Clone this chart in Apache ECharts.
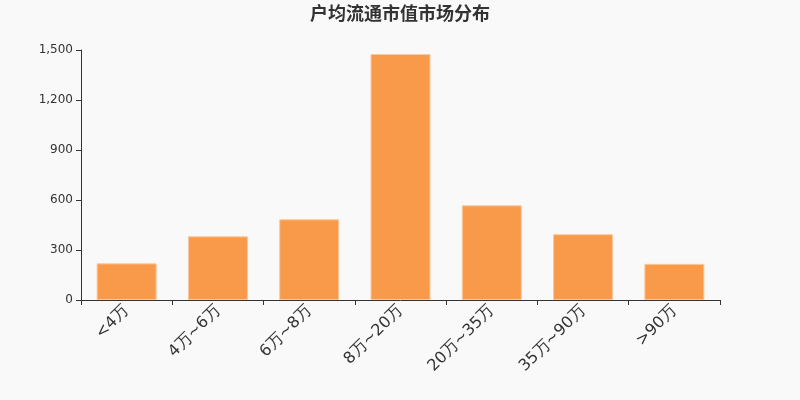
<!DOCTYPE html>
<html lang="zh">
<head>
    <meta charset="utf-8" />
    <title>户均流通市值市场分布</title>
    <script src="https://cdn.jsdelivr.net/npm/echarts@6/dist/echarts.min.js"></script>
    <style>
        html, body { margin: 0; padding: 0; background: #f9f9f9; }
    </style>
</head>
<body>
    <div id="box" style="width:800px;height:400px;"></div>
    <script>
        // 分类与数值
        var categories = ['<4万', '4万~6万', '6万~8万', '8万~20万', '20万~35万', '35万~90万', '>90万'];
        var values = [220, 382, 484, 1476, 568, 395, 217];
        var yTicks = { min: 0, max: 1500, interval: 300 };

        var myChart = echarts.init(document.getElementById('box'));
        var option = {
            backgroundColor: '#f9f9f9',
            title: {
                text: '户均流通市值市场分布',
                left: 'center',
                top: -1,
                textStyle: {
                    fontSize: 18,
                    fontWeight: 'bold',
                    color: '#333',
                    fontFamily: 'Noto Sans CJK SC'
                }
            },
            grid: {
                left: 81,
                right: 80,
                top: 50,
                bottom: 100
            },
            xAxis: {
                type: 'category',
                data: categories,
                axisLine: { lineStyle: { color: '#333' } },
                axisTick: { show: true, length: 5, lineStyle: { color: '#333' } },
                axisLabel: {
                    rotate: 45,
                    interval: 0,
                    fontSize: 16,
                    color: '#333',
                    fontFamily: 'DejaVu Sans'
                }
            },
            yAxis: {
                type: 'value',
                min: yTicks.min,
                max: yTicks.max,
                interval: yTicks.interval,
                axisLine: { show: true, lineStyle: { color: '#333' } },
                axisTick: { show: true, length: 5, lineStyle: { color: '#333' } },
                splitLine: { show: false },
                axisLabel: {
                    fontSize: 12,
                    color: '#333',
                    fontFamily: 'DejaVu Sans'
                }
            },
            series: [
                {
                    type: 'bar',
                    data: values,
                    barWidth: 60,
                    itemStyle: {
                        color: '#f89a4a',
                        borderColor: '#fbc89c',
                        borderWidth: 1
                    }
                }
            ]
        };
        myChart.setOption(option);
    </script>
</body>
</html>
